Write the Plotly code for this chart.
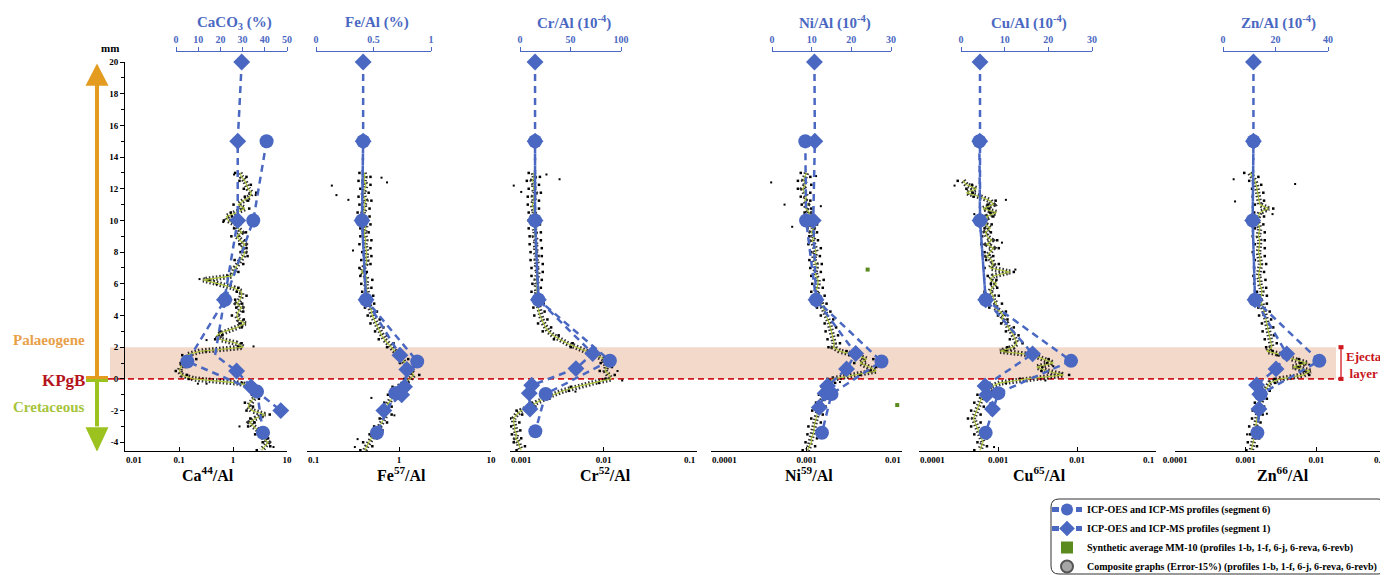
import math
import plotly.graph_objects as go

W, H = 1388, 575
OFF = 8  # page body margin offset
def px(x): return (x - OFF) / W
def py(y): return 1 - (y - OFF) / H

FONT = "Liberation Serif"
BLUE = "#4a68c2"
GREEN_LINE = "#aec63a"
PINK = "#f3d9ca"
RED = "#d0191f"
ORANGE = "#e39b20"
ARROW_GREEN = "#9cc21f"

# ---------------- data ----------------
# depth grid (mm) of the composite profiles: 13 -> -4.5 in 0.25 mm steps
DEPTH = [13 - 0.25 * i for i in range(71)]
DEPTH_LO = DEPTH[::2]
DEPTH_HI = DEPTH[1::2]

PANELS = ["Ca", "Fe", "Cr", "Ni", "Cu", "Zn"]
BOTTOM_TITLES = ["Ca<sup>44</sup>/Al", "Fe<sup>57</sup>/Al", "Cr<sup>52</sup>/Al",
                 "Ni<sup>59</sup>/Al", "Cu<sup>65</sup>/Al", "Zn<sup>66</sup>/Al"]
TOP_TITLES = ["CaCO<sub>3</sub> (%)", "Fe/Al (%)", "Cr/Al (10<sup>-4</sup>)",
              "Ni/Al (10<sup>-4</sup>)", "Cu/Al (10<sup>-4</sup>)", "Zn/Al (10<sup>-4</sup>)"]
BOTTOM_LOG_RANGE = [(-2, 1), (-1, 1), (-3, -1), (-4, -2), (-4, -1), (-4, -1)]
# centred tick labels
BOTTOM_TICKS = [[0.1, 1, 10], [1, 10], [0.01], [0.001], [0.001, 0.01], [0.0001, 0.001, 0.01]]
BOTTOM_TICKTEXT = [["0.1", "1", "10"], ["1", "10"], ["0.01"], ["0.001"], ["0.001", "0.01"],
                   ["0.0001", "0.001", "0.01"]]
# end-of-axis tick labels aligned inwards (value, text, side)
BOTTOM_END_LABELS = [[(0.01, "0.01", "left")], [(0.1, "0.1", "left")],
                     [(0.001, "0.001", "left"), (0.1, "0.1", "right")],
                     [(0.0001, "0.0001", "left"), (0.01, "0.01", "right")],
                     [(0.0001, "0.0001", "left"), (0.1, "0.1", "right")],
                     [(0.1, "0.1", "right")]]
TOP_MAX = [50, 1, 100, 30, 30, 40]
TOP_TICKS = [[0, 10, 20, 30, 40, 50], [0, 0.5, 1], [0, 50, 100], [0, 10, 20, 30], [0, 10, 20, 30], [0, 20, 40]]
Y_TICKS = [-4, -2, 0, 2, 4, 6, 8, 10, 12, 14, 16, 18, 20]

# composite profiles (log10 of ratio), green synthetic line
ca_line = [0.13,0.16,0.22,0.25,0.28,0.34,0.31,0.19,0.10,0.22,0.07,-0.12,-0.09,0.04,0.10,0.16,0.07,0.13,0.22,0.16,
           0.22,0.19,0.13,0.10,0.04,0.01,-0.02,-0.55,-0.24,0.01,0.16,0.16,0.13,0.07,0.16,0.10,0.07,0.10,0.22,0.07,
           -0.15,-0.30,-0.24,0.07,0.19,-0.61,-0.86,-0.77,-0.89,-0.97,-0.99,-0.95,-0.73,0.07,0.44,0.38,0.44,0.38,0.31,0.28,
           0.35,0.59,0.41,0.31,0.38,0.47,0.50,0.56,0.65,0.59,0.53]
fe_line = [-0.38,-0.37,-0.38,-0.36,-0.37,-0.39,-0.38,-0.36,-0.38,-0.37,-0.39,-0.38,-0.38,-0.37,-0.36,-0.38,-0.37,-0.36,-0.37,-0.36,
           -0.35,-0.36,-0.35,-0.36,-0.38,-0.41,-0.36,-0.35,-0.36,-0.35,-0.35,-0.34,-0.34,-0.33,-0.31,-0.30,-0.29,-0.27,-0.25,-0.23,
           -0.21,-0.19,-0.16,-0.12,-0.08,-0.04,0.00,0.04,0.07,0.10,0.13,0.16,0.12,0.04,-0.01,-0.04,-0.06,-0.08,-0.11,-0.14,
           -0.15,-0.14,-0.16,-0.19,-0.21,-0.24,-0.27,-0.30,-0.33,-0.35,-0.37]
cr_line = [-2.75,-2.74,-2.76,-2.74,-2.75,-2.73,-2.75,-2.74,-2.76,-2.75,-2.74,-2.76,-2.75,-2.73,-2.74,-2.73,-2.74,-2.72,-2.73,-2.72,
           -2.73,-2.71,-2.72,-2.71,-2.72,-2.70,-2.71,-2.72,-2.71,-2.72,-2.71,-2.72,-2.71,-2.70,-2.70,-2.69,-2.68,-2.66,-2.64,-2.62,
           -2.59,-2.54,-2.47,-2.39,-2.29,-2.18,-2.07,-2.00,-1.98,-1.97,-1.98,-1.94,-1.92,-2.11,-2.29,-2.43,-2.54,-2.64,-2.72,-2.79,
           -2.88,-2.93,-2.96,-2.96,-2.95,-2.95,-2.93,-2.94,-2.91,-2.90,-2.88]
ni_line = [-3.00,-3.02,-3.03,-3.01,-3.04,-3.02,-3.00,-3.02,-2.99,-3.01,-2.97,-2.99,-2.96,-2.95,-2.93,-2.95,-2.92,-2.94,-2.92,-2.91,
           -2.90,-2.92,-2.92,-2.90,-2.90,-2.91,-2.90,-2.88,-2.88,-2.89,-2.90,-2.87,-2.86,-2.85,-2.83,-2.81,-2.79,-2.78,-2.76,-2.75,
           -2.74,-2.73,-2.72,-2.71,-2.72,-2.65,-2.48,-2.37,-2.44,-2.34,-2.27,-2.51,-2.72,-2.76,-2.78,-2.80,-2.81,-2.83,-2.85,-2.86,
           -2.88,-2.89,-2.90,-2.91,-2.92,-2.92,-2.93,-2.95,-2.95,-2.97,-2.99]
cu_line = [None,None,-3.44,-3.40,-3.27,-3.40,-3.23,-3.10,-3.06,-3.19,-3.02,-3.14,-3.14,-3.16,-3.10,-3.16,-3.14,-3.08,-3.14,-3.06,
           -3.10,-3.14,-3.08,-3.06,-3.10,-2.85,-3.06,-3.10,-3.02,-3.08,-3.10,-3.06,-3.06,-3.02,-3.04,-2.97,-2.93,-2.95,-2.89,-2.87,
           -2.83,-2.81,-2.78,-2.76,-2.81,-2.97,-2.55,-2.43,-2.30,-2.51,-2.38,-2.17,-2.64,-2.97,-3.10,-3.14,-3.19,-3.21,-3.23,-3.25,
           -3.27,-3.29,-3.31,-3.29,-3.27,-3.25,-3.23,-3.21,-3.19,-3.21,-3.23]
zn_line = [-2.94,-2.90,-2.87,-2.85,-2.84,-2.83,-2.82,-2.81,-2.80,-2.68,-2.80,-2.82,-2.84,-2.82,-2.80,-2.81,-2.82,-2.80,-2.80,-2.81,
           -2.82,-2.80,-2.80,-2.79,-2.80,-2.81,-2.82,-2.80,-2.80,-2.78,-2.77,-2.78,-2.80,-2.77,-2.75,-2.74,-2.73,-2.71,-2.70,-2.69,
           -2.68,-2.67,-2.66,-2.64,-2.63,-2.70,-2.47,-2.33,-2.14,-2.33,-2.09,-2.18,-2.51,-2.66,-2.70,-2.73,-2.75,-2.77,-2.80,-2.81,
           -2.82,-2.83,-2.84,-2.86,-2.87,-2.87,-2.87,-2.88,-2.89,-2.91,-2.92]

# composite scatter points (log10), left side at DEPTH_LO, right side at DEPTH_HI
ca_dots_lo = [0.04,0.12,0.20,0.22,0.01,-0.04,-0.17,0.02,-0.03,0.12,0.14,0.03,-0.05,-0.10,-0.30,0.07,0.04,0.06,-0.02,0.12,
              -0.24,-0.33,0.10,-0.94,-0.97,-1.06,-0.82,0.34,0.35,0.22,0.25,0.32,0.28,0.41,0.55,0.44]
ca_dots_hi = [0.25,0.33,0.43,0.28,0.30,-0.02,0.13,0.24,0.23,0.25,0.27,0.19,0.10,-0.45,0.10,0.25,0.17,0.19,0.20,0.16,
              -0.20,0.16,-0.50,-0.68,-0.88,-0.85,0.17,0.47,0.48,0.37,0.68,0.40,0.56,0.65,0.69]
fe_dots_lo = [-0.43,-0.44,-0.42,-0.44,-0.43,-0.45,-0.43,-0.42,-0.42,-0.43,-0.40,-0.41,-0.43,-0.42,-0.41,-0.40,-0.40,-0.37,-0.34,-0.31,
              -0.26,-0.22,-0.13,-0.05,0.01,0.08,0.06,-0.07,-0.12,-0.16,-0.21,-0.21,-0.27,-0.32,-0.39,-0.42]
fe_dots_hi = [-0.31,-0.31,-0.33,-0.30,-0.32,-0.32,-0.31,-0.33,-0.30,-0.31,-0.30,-0.31,-0.35,-0.29,-0.30,-0.28,-0.27,-0.24,-0.21,-0.17,
              -0.13,-0.06,0.02,0.10,0.16,0.22,0.10,0.02,-0.02,-0.08,-0.08,-0.13,-0.18,-0.24,-0.29]
cr_dots_lo = [-2.80,-2.82,-2.80,-2.81,-2.81,-2.80,-2.80,-2.80,-2.79,-2.79,-2.78,-2.78,-2.77,-2.77,-2.76,-2.77,-2.76,-2.75,-2.74,-2.70,
              -2.65,-2.53,-2.35,-2.13,-2.03,-2.04,-1.98,-2.35,-2.60,-2.77,-2.93,-3.00,-2.99,-2.98,-2.96,-2.93]
cr_dots_hi = [-2.68,-2.69,-2.67,-2.69,-2.69,-2.70,-2.68,-2.67,-2.67,-2.66,-2.66,-2.65,-2.65,-2.66,-2.67,-2.66,-2.64,-2.63,-2.60,-2.56,
              -2.48,-2.33,-2.12,-1.94,-1.91,-1.88,-2.05,-2.37,-2.58,-2.73,-2.87,-2.90,-2.89,-2.88,-2.84]
ni_dots_lo = [-3.06,-3.09,-3.09,-3.06,-3.05,-3.02,-3.02,-2.99,-2.97,-2.98,-2.95,-2.97,-2.96,-2.95,-2.94,-2.95,-2.92,-2.89,-2.85,-2.81,
              -2.80,-2.78,-2.77,-2.55,-2.50,-2.33,-2.78,-2.84,-2.87,-2.90,-2.94,-2.95,-2.98,-2.99,-3.01,-3.04]
ni_dots_hi = [-2.96,-2.95,-2.96,-2.96,-2.95,-2.93,-2.89,-2.89,-2.88,-2.85,-2.86,-2.84,-2.85,-2.82,-2.83,-2.81,-2.79,-2.75,-2.72,-2.69,
              -2.67,-2.65,-2.58,-2.30,-2.27,-2.44,-2.70,-2.74,-2.77,-2.80,-2.83,-2.85,-2.86,-2.89,-2.91]
cu_dots_lo = [None,-3.51,-3.40,-3.31,-3.13,-3.10,-3.21,-3.17,-3.20,-3.21,-3.17,-3.15,-3.17,-3.13,-3.09,-3.17,-3.13,-3.11,-3.00,-2.96,
              -2.90,-2.85,-2.88,-2.62,-2.38,-2.45,-2.72,-3.17,-3.26,-3.30,-3.34,-3.38,-3.34,-3.30,-3.26,-3.30]
cu_dots_hi = [None,-3.33,-3.32,-3.03,-3.11,-3.06,-3.08,-3.09,-3.01,-2.99,-3.06,-2.99,-2.80,-3.02,-3.01,-2.99,-2.95,-2.90,-2.88,-2.80,
              -2.74,-2.69,-2.90,-2.36,-2.44,-2.10,-2.90,-3.07,-3.14,-3.18,-3.22,-3.22,-3.18,-3.14,-3.14]
zn_dots_lo = [-3.02,-2.95,-2.91,-2.90,-2.87,-2.88,-2.91,-2.87,-2.90,-2.87,-2.90,-2.87,-2.88,-2.89,-2.88,-2.84,-2.88,-2.82,-2.81,-2.77,
              -2.76,-2.73,-2.71,-2.55,-2.22,-2.17,-2.59,-2.77,-2.83,-2.87,-2.90,-2.91,-2.95,-2.94,-2.97,-2.99]
zn_dots_hi = [-2.82,-2.78,-2.75,-2.74,-2.61,-2.74,-2.75,-2.73,-2.73,-2.73,-2.73,-2.71,-2.74,-2.72,-2.71,-2.70,-2.70,-2.66,-2.64,-2.61,
              -2.60,-2.56,-2.62,-2.25,-2.26,-2.10,-2.58,-2.66,-2.70,-2.74,-2.76,-2.79,-2.80,-2.81,-2.84]

# isolated composite outliers (depth mm, log10)
ca_out_depth = [12.9, 11.6, 9.9, 6.3, 2.05, 2.45, -0.3, -0.3, -4.3, -3.0]
ca_out_val = [0.02, 0.42, -0.18, -0.62, 0.38, -0.49, -0.49, -0.65, 0.75, 0.12]
fe_out_depth = [12.2, 11.6, 12.7, 12.4, 11.3, 8.1, -1.2, -3.8, -4.3, -2.3]
fe_out_val = [-0.73, -0.68, -0.19, -0.13, -0.55, -0.50, -0.30, -0.45, -0.48, -0.05]
cr_out_depth = [12.6, 12.9, 12.2, 11.8, 0.5, -0.1, -0.8, 1.6]
cr_out_val = [-2.47, -2.61, -2.96, -2.88, -1.85, -1.80, -2.30, -2.15]
ni_out_depth = [12.4, 11.0, 12.8, 10.9, 9.6, 1.0, -0.2]
ni_out_val = [-3.37, -3.23, -2.90, -2.85, -3.15, -2.25, -2.65]
cu_out_depth = [12.2, 11.3, 10.4, 8.6, 6.9, 0.8, -0.1, -4.3]
cu_out_val = [-3.55, -2.90, -3.30, -2.95, -2.78, -2.30, -2.40, -3.05]
zn_out_depth = [12.6, 12.3, 11.2, 10.4, 0.9, -3.5, -2.2]
zn_out_val = [-3.17, -2.30, -3.15, -2.62, -2.10, -2.98, -2.70]

# ICP profiles on the top (linear) axes
ca_seg6_depth = [15, 10, 5, 1.1, -0.8, -3.4]
ca_seg6 = [40.8, 34.8, 22.1, 5.1, 36.5, 39.2]
ca_seg1_depth = [20, 15, 10, 5, 1.5, 0.5, -0.5, -2]
ca_seg1 = [29.6, 27.8, 27.8, 21.8, 17.6, 27.3, 33.8, 47.2]
fe_seg6_depth = [15, 10, 5, 1.1, -0.9, -3.4]
fe_seg6 = [0.41, 0.40, 0.435, 0.88, 0.69, 0.53]
fe_seg1_depth = [20, 15, 10, 5, 1.5, 0.6, -0.5, -1.0, -2]
fe_seg1 = [0.41, 0.41, 0.40, 0.435, 0.73, 0.79, 0.77, 0.745, 0.59]
cr_seg6_depth = [15, 10, 5, 1.15, -0.95, -3.3]
cr_seg6 = [14.9, 14.9, 18.2, 89, 25.4, 15.2]
cr_seg1_depth = [20, 15, 10, 5, 1.6, 0.65, -0.4, -0.9, -1.9]
cr_seg1 = [14.9, 14.9, 14.9, 18.2, 72, 55.4, 11.6, 9.2, 9.9]
ni_seg6_depth = [15, 10, 5, 1.1, -0.95, -3.4]
ni_seg6 = [8.4, 8.6, 11.1, 27.6, 15.0, 12.6]
ni_seg1_depth = [20, 15, 10, 5, 1.6, 0.63, -0.45, -0.9, -1.8]
ni_seg1 = [10.7, 10.8, 10.4, 11.1, 21.1, 18.8, 14.0, 13.4, 11.9]
cu_seg6_depth = [15, 10, 5, 1.14, -0.9, -3.4]
cu_seg6 = [4.2, 4.35, 5.65, 25.2, 8.55, 5.65]
cu_seg1_depth = [20, 15, 10, 5, 1.58, -0.45, -1.0, -1.9]
cu_seg1 = [4.35, 4.3, 4.35, 5.65, 16.4, 5.5, 5.9, 7.2]
zn_seg6_depth = [15, 10, 5, 1.14, -0.97, -3.4]
zn_seg6 = [11.6, 11.3, 12.2, 36.7, 14.3, 13.1]
zn_seg1_depth = [20, 15, 10, 5, 1.58, 0.63, -0.38, -0.97, -1.9]
zn_seg1 = [11.6, 11.6, 11.3, 12.2, 24.3, 20.2, 12.8, 14.0, 13.7]

# stray synthetic-average points (Ni panel)
syn_depth = [6.9, -1.65]
syn_val = [-2.36, -2.05]

LINES = [ca_line, fe_line, cr_line, ni_line, cu_line, zn_line]
DOTS_LO = [ca_dots_lo, fe_dots_lo, cr_dots_lo, ni_dots_lo, cu_dots_lo, zn_dots_lo]
DOTS_HI = [ca_dots_hi, fe_dots_hi, cr_dots_hi, ni_dots_hi, cu_dots_hi, zn_dots_hi]
OUT_D = [ca_out_depth, fe_out_depth, cr_out_depth, ni_out_depth, cu_out_depth, zn_out_depth]
OUT_V = [ca_out_val, fe_out_val, cr_out_val, ni_out_val, cu_out_val, zn_out_val]
SEG6_D = [ca_seg6_depth, fe_seg6_depth, cr_seg6_depth, ni_seg6_depth, cu_seg6_depth, zn_seg6_depth]
SEG6 = [ca_seg6, fe_seg6, cr_seg6, ni_seg6, cu_seg6, zn_seg6]
SEG1_D = [ca_seg1_depth, fe_seg1_depth, cr_seg1_depth, ni_seg1_depth, cu_seg1_depth, zn_seg1_depth]
SEG1 = [ca_seg1, fe_seg1, cr_seg1, ni_seg1, cu_seg1, zn_seg1]

# ---------------- layout geometry (pixels) ----------------
BOTTOM_DOM = [(125, 287), (307, 491), (510, 697), (711, 902), (919, 1156), (1175, 1387)]
TOP_DOM = [(176, 287), (316, 431), (520, 621), (772, 891), (961, 1092), (1223, 1328)]
Y_TOP_PX, Y_BOT_PX = 62, 451
TOP_AXIS_PX = 51


def unlog(arr):
    return [10 ** v if v is not None else None for v in arr]


fig = go.Figure()

for i in range(6):
    xb = "x" if i == 0 else f"x{i + 1}"
    fig.add_trace(go.Scatter(x=unlog(LINES[i]), y=DEPTH, xaxis=xb, yaxis="y", mode="lines",
                             line=dict(color="rgba(0,0,0,0.8)", width=5.5, dash="1.5px,2px"),
                             showlegend=False, hoverinfo="skip"))
    fig.add_trace(go.Scatter(x=unlog(DOTS_LO[i]), y=DEPTH_LO, xaxis=xb, yaxis="y", mode="markers",
                             marker=dict(color="black", size=2.5, symbol="square"),
                             showlegend=False, hoverinfo="skip"))
    fig.add_trace(go.Scatter(x=unlog(DOTS_HI[i]), y=DEPTH_HI, xaxis=xb, yaxis="y", mode="markers",
                             marker=dict(color="black", size=2.5, symbol="square"),
                             showlegend=False, hoverinfo="skip"))
    fig.add_trace(go.Scatter(x=unlog(OUT_V[i]), y=OUT_D[i], xaxis=xb, yaxis="y", mode="markers",
                             marker=dict(color="black", size=2.0, symbol="square"),
                             showlegend=False, hoverinfo="skip"))
    fig.add_trace(go.Scatter(x=unlog(LINES[i]), y=DEPTH, xaxis=xb, yaxis="y", mode="lines",
                             line=dict(color=GREEN_LINE, width=1.1),
                             showlegend=False, hoverinfo="skip"))

fig.add_trace(go.Scatter(x=unlog(syn_val), y=syn_depth, xaxis="x4", yaxis="y", mode="markers",
                         marker=dict(color="#5b8a1e", size=4, symbol="square"),
                         name="Synthetic average MM-10 (profiles 1-b, 1-f, 6-j, 6-reva, 6-revb)",
                         showlegend=True, legendrank=3))

for i in range(6):
    xt = f"x{i + 7}"
    sizes1 = [13] * len(SEG1[i])
    if i == 0:
        sizes1[4] = 0
    fig.add_trace(go.Scatter(x=SEG1[i], y=SEG1_D[i], xaxis=xt, yaxis="y", mode="lines+markers",
                             line=dict(color=BLUE, width=2.5, dash="7px,5px"),
                             marker=dict(symbol="diamond", size=sizes1, color=BLUE, opacity=1,
                                         line=dict(width=0)),
                             cliponaxis=False,
                             name="ICP-OES and ICP-MS profiles (segment 1)",
                             showlegend=(i == 0), legendrank=2))
    fig.add_trace(go.Scatter(x=SEG6[i], y=SEG6_D[i], xaxis=xt, yaxis="y", mode="lines+markers",
                             line=dict(color=BLUE, width=2.5, dash="7px,5px"),
                             marker=dict(symbol="circle", size=14, color=BLUE, opacity=1,
                                         line=dict(width=0)),
                             cliponaxis=False,
                             name="ICP-OES and ICP-MS profiles (segment 6)",
                             showlegend=(i == 0), legendrank=1))

fig.add_trace(go.Scatter(x=[None], y=[None], xaxis="x", yaxis="y", mode="markers",
                         marker=dict(symbol="circle", size=14, color="#a6a6a6",
                                     line=dict(color="#555555", width=1)),
                         name="Composite graphs (Error-15%) (profiles 1-b, 1-f, 6-j, 6-reva, 6-revb)",
                         showlegend=True, legendrank=4))

layout = dict(
    width=W, height=H,
    margin=dict(l=0, r=0, t=0, b=0, autoexpand=False),
    paper_bgcolor="white", plot_bgcolor="rgba(0,0,0,0)",
    font=dict(family=FONT, color="black"),
    showlegend=True,
    legend=dict(x=px(1047), y=py(495), xanchor="left", yanchor="top",
                bgcolor="rgba(0,0,0,0)", borderwidth=0,
                font=dict(family=FONT, size=10, color="black", weight="bold"),
                itemsizing="constant", tracegroupgap=0, itemwidth=30),
    yaxis=dict(domain=[py(Y_BOT_PX), py(Y_TOP_PX)], range=[-4.55, 20], anchor="x",
               showgrid=False, zeroline=False, showline=True, linecolor="black", linewidth=1,
               ticks="outside", ticklen=4, tickcolor="black",
               tickvals=Y_TICKS, ticktext=[str(v) for v in Y_TICKS],
               tickfont=dict(family=FONT, size=9, weight="bold"),
               minor=dict(tickmode="linear", tick0=1, dtick=2, ticks="outside", ticklen=3, tickcolor="black")),
)

for i in range(6):
    bkey = "xaxis" if i == 0 else f"xaxis{i + 1}"
    tkey = f"xaxis{i + 7}"
    b0, b1 = BOTTOM_DOM[i]
    t0, t1 = TOP_DOM[i]
    layout[bkey] = dict(domain=[px(b0), px(b1)], type="log", range=list(BOTTOM_LOG_RANGE[i]),
                        anchor="y", side="bottom", showgrid=False, zeroline=False,
                        showline=True, linecolor="black", linewidth=1,
                        ticks="inside", ticklen=4, tickcolor="black",
                        tickvals=BOTTOM_TICKS[i], ticktext=BOTTOM_TICKTEXT[i],
                        tickfont=dict(family=FONT, size=9, weight="bold"),
                        minor=dict(tickmode="array", tickvals=[v for v, _, _ in BOTTOM_END_LABELS[i]],
                                   ticks="inside", ticklen=4, tickcolor="black"))
    layout[tkey] = dict(domain=[px(t0), px(t1)], range=[0, TOP_MAX[i]], anchor="free",
                        position=py(TOP_AXIS_PX), side="top", showgrid=False, zeroline=False,
                        showline=True, linecolor=BLUE, linewidth=1,
                        ticks="outside", ticklen=4, tickcolor=BLUE,
                        tickvals=TOP_TICKS[i], ticktext=[str(v) for v in TOP_TICKS[i]],
                        tickfont=dict(family=FONT, size=10, color=BLUE, weight="bold"))

fig.update_layout(**layout)

# ---------------- shapes ----------------
shapes = []
shapes.append(dict(type="rect", xref="paper", yref="y", x0=px(110), x1=px(1336), y0=0, y1=2,
                   fillcolor=PINK, line=dict(width=0), layer="below"))
shapes.append(dict(type="line", xref="paper", yref="y", x0=px(108), x1=px(1340), y0=0, y1=0,
                   line=dict(color=RED, width=1.8, dash="6px,4px"), layer="below"))
shapes.append(dict(type="line", xref="paper", yref="y", x0=px(1341), x1=px(1341), y0=0, y1=2,
                   line=dict(color=RED, width=1.3)))
for yc in (0, 2):
    shapes.append(dict(type="rect", xref="paper", yref="y", x0=px(1338.5), x1=px(1343.5),
                       y0=yc - 0.13, y1=yc + 0.13, fillcolor=RED, line=dict(width=0)))
shapes.append(dict(type="line", xref="paper", yref="y", x0=px(97), x1=px(97), y0=0, y1=18.6,
                   line=dict(color=ORANGE, width=4)))
shapes.append(dict(type="path", xref="paper", yref="y",
                   path=f"M {px(85.5)},18.5 L {px(108.5)},18.5 L {px(97)},19.9 Z",
                   fillcolor=ORANGE, line=dict(width=0)))
shapes.append(dict(type="line", xref="paper", yref="y", x0=px(97), x1=px(97), y0=0, y1=-3.0,
                   line=dict(color=ARROW_GREEN, width=4)))
shapes.append(dict(type="path", xref="paper", yref="y",
                   path=f"M {px(85.5)},-3.05 L {px(108.5)},-3.05 L {px(97)},-4.6 Z",
                   fillcolor=ARROW_GREEN, line=dict(width=0)))
shapes.append(dict(type="rect", xref="paper", yref="paper", x0=px(86), x1=px(108),
                   y0=py(379), y1=py(376), fillcolor=ORANGE, line=dict(width=0)))
shapes.append(dict(type="rect", xref="paper", yref="paper", x0=px(86), x1=px(108),
                   y0=py(382), y1=py(379), fillcolor=ARROW_GREEN, line=dict(width=0)))
lx0, lx1, ly0, ly1, r = 1051, 1386, 499, 574, 8
path = (f"M {px(lx0 + r)},{py(ly0)} L {px(lx1 - r)},{py(ly0)} Q {px(lx1)},{py(ly0)} {px(lx1)},{py(ly0 + r)} "
        f"L {px(lx1)},{py(ly1 - r)} Q {px(lx1)},{py(ly1)} {px(lx1 - r)},{py(ly1)} "
        f"L {px(lx0 + r)},{py(ly1)} Q {px(lx0)},{py(ly1)} {px(lx0)},{py(ly1 - r)} "
        f"L {px(lx0)},{py(ly0 + r)} Q {px(lx0)},{py(ly0)} {px(lx0 + r)},{py(ly0)} Z")
shapes.append(dict(type="path", xref="paper", yref="paper", path=path,
                   line=dict(color="#333333", width=1), fillcolor="rgba(0,0,0,0)"))
fig.update_layout(shapes=shapes)

# ---------------- annotations ----------------
def note(text, x, y, size, color, xanchor="center", **kw):
    return dict(text=text, x=px(x), y=py(y), xref="paper", yref="paper", showarrow=False,
                xanchor=xanchor, yanchor="middle",
                font=dict(family=FONT, size=size, color=color, weight="bold"), **kw)

ann = []
for i in range(6):
    b0, b1 = BOTTOM_DOM[i]
    t0, t1 = TOP_DOM[i]
    ann.append(note(BOTTOM_TITLES[i], (b0 + b1) / 2 + 2, 474, 16, "black"))
    ann.append(note(TOP_TITLES[i], (t0 + t1) / 2 + 3, 23, 15, BLUE))
    xb = "x" if i == 0 else f"x{i + 1}"
    for v, txt, side in BOTTOM_END_LABELS[i]:
        ann.append(dict(text=txt, x=math.log10(v), y=py(460), xref=xb, yref="paper", showarrow=False,
                        xanchor=side, yanchor="middle", xshift=(-1 if side == "left" else 1),
                        font=dict(family=FONT, size=9, color="black", weight="bold")))
ann.append(note("mm", 110, 48, 11, "black"))
ann.append(note("Palaeogene", 49, 340, 15, "#e8a048"))
ann.append(note("KPgB", 63, 380, 17, "#b5141c"))
ann.append(note("Cretaceous", 49, 407, 15, "#a6c43c"))
ann.append(note("Ejecta<br>layer", 1364, 365, 13, "#c8141c", align="center"))
fig.update_layout(annotations=ann)

fig.write_html("out.html")
